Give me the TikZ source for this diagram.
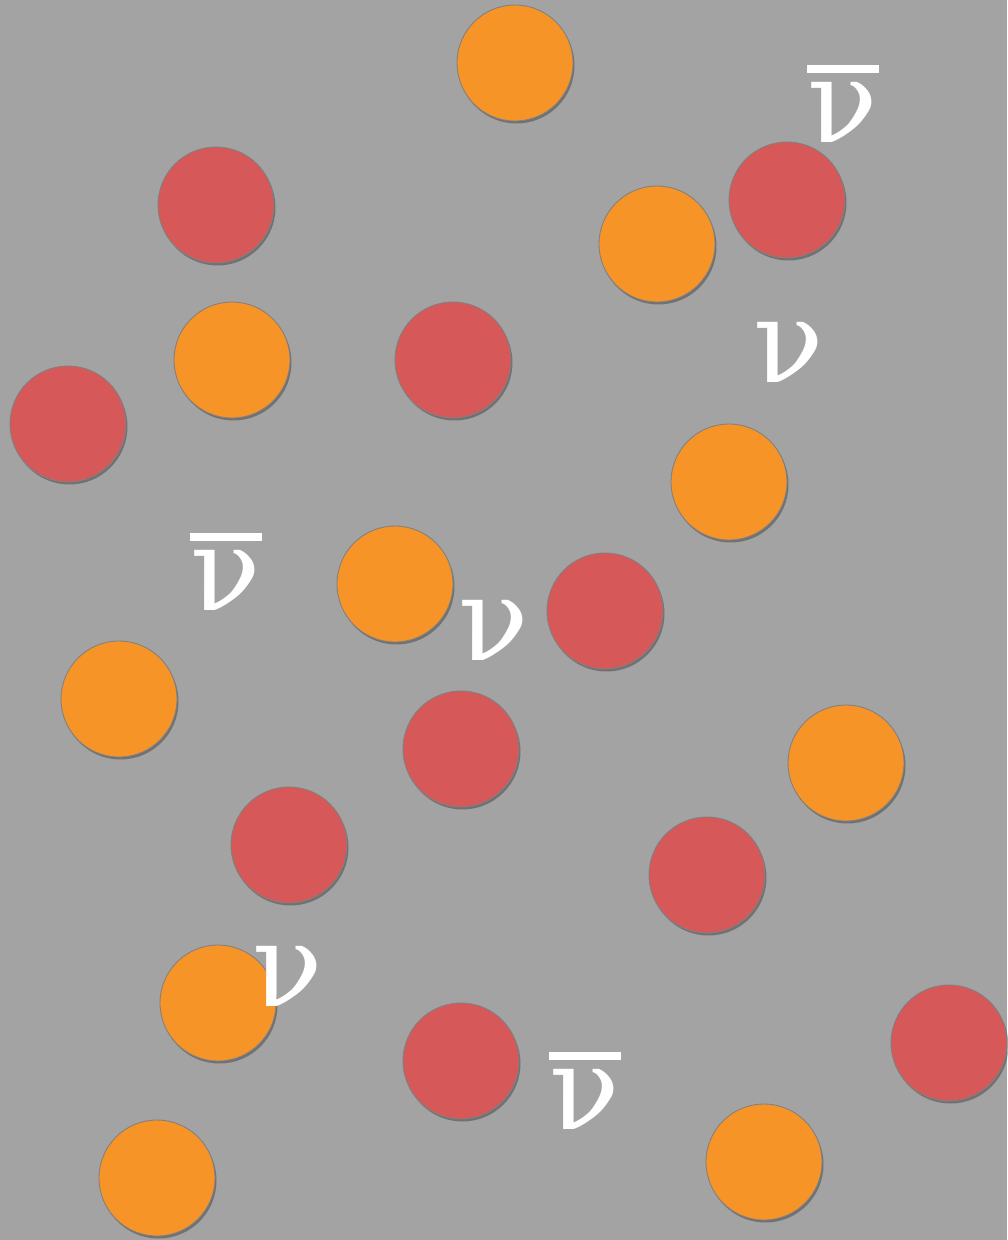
\documentclass[tikz,border=0pt]{standalone}
\usepackage{fontspec}
\newfontfamily\nufont{DejaVu Serif}
\usepackage{tikz}
\usetikzlibrary{shadows}
\definecolor{bggray}{RGB}{163,163,163}
\definecolor{orangein}{RGB}{247,148,40}
\definecolor{orangeout}{RGB}{210,108,22}
\definecolor{redin}{RGB}{214,88,88}
\definecolor{redout}{RGB}{165,58,60}
\pgfdeclareradialshading{orangeshade}{\pgfpoint{0bp}{0bp}}{color(0bp)=(orangein);
  color(40bp)=(orangein); color(50bp)=(orangeout); color(72bp)=(orangeout)}
\pgfdeclareradialshading{redshade}{\pgfpoint{0bp}{0bp}}{color(0bp)=(redin);
  color(40bp)=(redin); color(50bp)=(redout); color(72bp)=(redout)}
% antineutrino: nu with a heavy bar
\newcommand\barnu{\vbox{\offinterlineskip
  \hbox to 0.62em{\hss\vrule width 0.62em height 0.07em\hss}%
  \kern0.08em\hbox to 0.62em{\hss ν\hss}}}
\tikzset{
  ball/.style={circle, minimum size=2.32cm, inner sep=0pt, draw=black!50,
    line width=0.5pt, drop shadow={shadow xshift=0.03cm, shadow yshift=-0.05cm,
    opacity=0.3, fill=black}},
  oball/.style={ball, shading=orangeshade},
  rball/.style={ball, shading=redshade},
  nulab/.style={text=white, inner sep=0pt, font=\nufont\fontsize{66}{70}\selectfont},
}
\begin{document}
\begin{tikzpicture}[x=0.02cm, y=-0.02cm]
  \fill[bggray] (0,0) rectangle (1007,1240);
  \useasboundingbox (0,0) rectangle (1007,1240);
  % orange balls
  \node[oball] (o1) at (515,63) {};
  \node[oball] (o2) at (657,244) {};
  \node[oball] (o3) at (232,360) {};
  \node[oball] (o4) at (729,482) {};
  \node[oball] (o5) at (395,584) {};
  \node[oball] (o6) at (119,699) {};
  \node[oball] (o7) at (846,763) {};
  \node[oball] (o8) at (218,1003) {};
  \node[oball] (o9) at (157,1178) {};
  \node[oball] (o10) at (764,1162) {};
  % red balls
  \node[rball] (r1) at (216,205) {};
  \node[rball] (r2) at (787,200) {};
  \node[rball] (r3) at (453,360) {};
  \node[rball] (r4) at (68,424) {};
  \node[rball] (r5) at (605,611) {};
  \node[rball] (r6) at (461,749) {};
  \node[rball] (r7) at (289,845) {};
  \node[rball] (r8) at (707,875) {};
  \node[rball] (r9) at (461,1061) {};
  \node[rball] (r10) at (949,1043) {};
  % labels
  \node[nulab] (ab1) at (843,104) {\barnu};
  \node[nulab] (n1) at (789,352) {ν};
  \node[nulab] (ab2) at (226,572) {\barnu};
  \node[nulab] (n2) at (494,630) {ν};
  \node[nulab] (n3) at (288,976) {ν};
  \node[nulab] (ab3) at (585,1091) {\barnu};
\end{tikzpicture}
\end{document}
